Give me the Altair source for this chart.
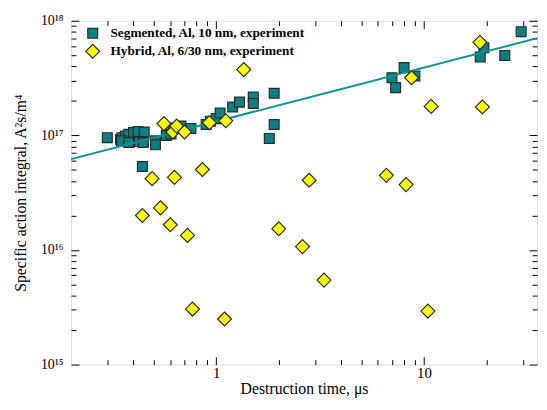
import json
import altair as alt
import pandas as pd

# ---------------- data ----------------
series_names = ["Segmented, Al, 10 nm, experiment", "Hybrid, Al, 6/30 nm, experiment"]

seg_x = [0.299, 0.346, 0.352, 0.365, 0.379, 0.400, 0.420, 0.450, 0.350, 0.379,
         0.427, 0.446, 0.510, 0.510, 0.441, 0.575, 0.606, 0.676, 0.755, 0.894,
         0.937, 1.00, 1.044, 1.199, 1.294, 1.507, 1.507, 1.90, 1.90, 1.80,
         7.01, 7.30, 8.02, 9.04, 18.65, 19.42, 24.48, 29.35, 0.624]
seg_y = [9.55e16, 9.26e16, 9.55e16, 9.88e16, 1.02e17, 1.06e17, 1.08e17, 1.07e17, 8.95e16, 8.66e16,
         8.78e16, 8.66e16, 8.95e16, 8.27e16, 5.35e16, 1.00e17, 1.03e17, 1.205e17, 1.15e17, 1.245e17,
         1.33e17, 1.40e17, 1.57e17, 1.77e17, 1.95e17, 2.16e17, 1.90e17, 2.33e17, 1.245e17, 9.4e16,
         3.18e17, 2.61e17, 3.90e17, 3.29e17, 4.82e17, 5.81e17, 4.98e17, 8.03e17, 1.158e17]

hyb_x = [0.441, 0.491, 0.539, 0.560, 0.601, 0.618, 0.629, 0.645, 0.704, 0.727,
         0.768, 0.858, 0.927, 1.096, 1.111, 1.356, 2.00, 2.60, 2.80, 3.30,
         6.59, 8.20, 8.71, 10.44, 10.83, 18.59, 19.1]
hyb_y = [2.0e16, 4.19e16, 2.33e16, 1.266e17, 1.66e16, 1.07e17, 4.30e16, 1.205e17, 1.07e17, 1.34e16,
         3.05e15, 5.04e16, 1.29e17, 2.50e15, 1.34e17, 3.75e17, 1.53e16, 1.07e16, 4.06e16, 5.46e15,
         4.48e16, 3.72e16, 3.18e17, 2.93e15, 1.79e17, 6.48e17, 1.77e17]

fit_x = [0.2, 35]
fit_y = [6.2e16, 7.05e17]

x_major = [1, 10]
x_tick_labels = ["1", "10"]
x_minor = [0.3, 0.4, 0.5, 0.6, 0.7, 0.8, 0.9, 2, 3, 4, 5, 6, 7, 8, 9, 20, 30]
y_major = [1e15, 1e16, 1e17, 1e18]
y_tick_labels = ["10¹⁵", "10¹⁶", "10¹⁷", "10¹⁸"]
y_minor = [k * 10.0 ** e for e in (15, 16, 17) for k in range(2, 10)]

x_title = "Destruction time, μs"
y_title = "Specific action integral, A²s/m⁴"

# ---------------- styling ----------------
FONT = "Liberation Serif"
TEAL = "#0b8082"
LINE = "#11908f"
YELLOW = "#ffff00"
EDGE = "#2a2a2a"

seg = pd.DataFrame({"x": seg_x, "y": seg_y, "series": series_names[0]})
hyb = pd.DataFrame({"x": hyb_x, "y": hyb_y, "series": series_names[1]})
fit = pd.DataFrame({"x": fit_x, "y": fit_y})

xs = alt.Scale(type="log", domain=[0.2, 35], nice=False)
ys = alt.Scale(type="log", domain=[1e15, 1e18], nice=False)

shape_scale = alt.Scale(domain=series_names, range=["square", "diamond"])
fill_scale = alt.Scale(domain=series_names, range=[TEAL, YELLOW])
stroke_scale = alt.Scale(domain=series_names, range=[EDGE, EDGE])
size_scale = alt.Scale(domain=series_names, range=[100, 200])


def legend():
    return alt.Legend(title=None, orient="none", legendX=14, legendY=6,
                      labelFont=FONT, labelFontSize=13.5, labelFontWeight="bold",
                      labelColor="black", labelLimit=1000,
                      symbolStrokeWidth=1.2, symbolOpacity=1, rowPadding=0,
                      labelOffset=10, padding=0)


def series_enc():
    return dict(
        shape=alt.Shape("series:N", scale=shape_scale, legend=legend()),
        fill=alt.Fill("series:N", scale=fill_scale, legend=legend()),
        stroke=alt.Stroke("series:N", scale=stroke_scale, legend=legend()),
        size=alt.Size("series:N", scale=size_scale, legend=legend()),
    )


x_label_expr = "%s[indexof(%s, datum.value)]" % (json.dumps(x_tick_labels), json.dumps(x_major))
y_label_expr = "%s[round(log(datum.value)/LN10) - 15]" % json.dumps(y_tick_labels, ensure_ascii=False)

x_lab_axis = alt.Axis(orient="bottom", values=x_major, labelExpr=x_label_expr, ticks=False,
                      domain=False, grid=False, labelFont=FONT, labelFontSize=15,
                      labelColor="black", labelPadding=1, title=x_title, titleFont=FONT,
                      titleFontSize=16, titleFontWeight="normal", titleColor="black",
                      titlePadding=0)
y_lab_axis = alt.Axis(orient="left", values=y_major, labelExpr=y_label_expr, ticks=False,
                      domain=False, grid=False, labelFont=FONT, labelFontSize=14,
                      labelColor="black", labelPadding=8, title=y_title, titleFont=FONT,
                      titleFontSize=16, titleFontWeight="normal", titleColor="black",
                      titlePadding=12)

squares = alt.Chart(seg).mark_point(filled=True, strokeWidth=1.2, opacity=1).encode(
    x=alt.X("x:Q", scale=xs, axis=x_lab_axis),
    y=alt.Y("y:Q", scale=ys, axis=y_lab_axis),
    **series_enc(),
)

fit_line = alt.Chart(fit).mark_line(color=LINE, strokeWidth=2).encode(
    x=alt.X("x:Q", scale=xs, axis=None),
    y=alt.Y("y:Q", scale=ys, axis=None),
)

diamonds = alt.Chart(hyb).mark_point(filled=True, strokeWidth=1.2, opacity=1).encode(
    x=alt.X("x:Q", scale=xs, axis=None),
    y=alt.Y("y:Q", scale=ys, axis=None),
    **series_enc(),
)


def tick_axis(orient, values, length):
    return alt.Axis(orient=orient, values=values, tickSize=length, offset=-length,
                    labels=False, domain=False, grid=False, title="",
                    tickColor="black", tickWidth=1)


def tick_layer(xo, yo, xv, yv, length):
    return alt.Chart(seg).mark_point(opacity=0).encode(
        x=alt.X("x:Q", scale=xs, axis=tick_axis(xo, xv, length)),
        y=alt.Y("y:Q", scale=ys, axis=tick_axis(yo, yv, length)),
    )


ticks = [
    tick_layer("bottom", "left", x_major, y_major, 8),
    tick_layer("bottom", "left", x_minor, y_minor, 5),
    tick_layer("top", "right", x_major, y_major, 8),
    tick_layer("top", "right", x_minor, y_minor, 5),
]

chart = alt.layer(squares, fit_line, diamonds, *ticks).resolve_axis(
    x="independent", y="independent"
).properties(
    width=473, height=349,
    padding={"left": 64, "top": 10, "right": 2, "bottom": 33},
    autosize="none",
).configure_view(stroke="black", strokeWidth=1.2).configure(background="white")

chart.save("out.html", embed_options={"renderer": "svg", "actions": False})
